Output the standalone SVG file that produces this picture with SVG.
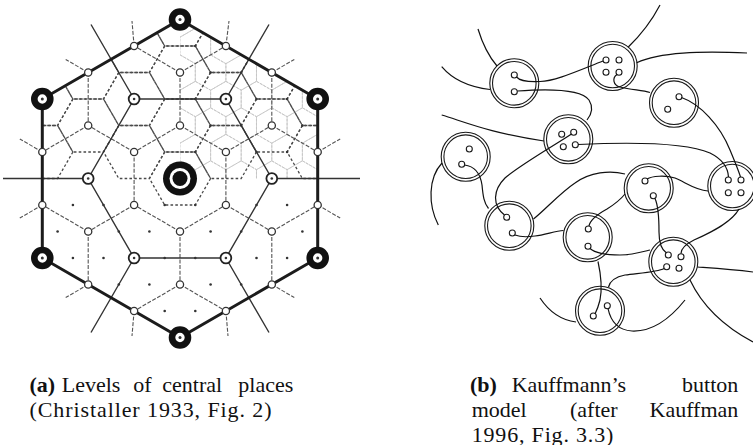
<svg xmlns="http://www.w3.org/2000/svg" xmlns:xlink="http://www.w3.org/1999/xlink" width="753" height="445" viewBox="0 0 753 445">
<style>
.ghex{fill:none;stroke:#1c1c1c;stroke-width:3}
.lg{fill:none;stroke:#333;stroke-width:1.4}
.lb{fill:none;stroke:#555;stroke-width:1.1;stroke-dasharray:4 1.6}
.l0{fill:none;stroke:#4a4a4a;stroke-width:1.3;stroke-dasharray:2.6 2.2}
.fine{fill:none;stroke:#c6c6c6;stroke-width:0.9;stroke-dasharray:3 1}
.k{fill:#fff;stroke:#333;stroke-width:1.3}
.b{fill:#fff;stroke:#222;stroke-width:1.8}
.gp{fill:#fff;stroke:#111;stroke-width:6.6}
.dot{fill:#333}
.ring{fill:#fff;stroke:#1a1a1a;stroke-width:1.1}
.hole{fill:none;stroke:#1a1a1a;stroke-width:1.1}
.th{fill:none;stroke:#111;stroke-width:1.2}
.cap{font-family:"Liberation Serif","Times New Roman",serif;font-size:22px;fill:#111}
</style>
<defs>
<path id="h0" d="M30.6,0 L15.3,26.5 L-15.3,26.5 L-30.6,0 L-15.3,-26.5 L15.3,-26.5Z"/>
<path id="h1" d="M0,-17.7 L15.3,-8.85 L15.3,8.85 L0,17.7 L-15.3,8.85 L-15.3,-8.85Z"/>
<clipPath id="cHex"><polygon points="180,19.5 317.7,99 317.7,258 180,337.5 42.3,258 42.3,99"/></clipPath>
<clipPath id="cUR"><polygon points="180,19.5 317.7,99 317.7,178.5 180,178.5"/></clipPath>
<g id="btn"><circle class="ring" r="24.5"/><circle class="ring" r="21.8"/></g>
</defs>
<rect width="753" height="445" fill="#fff"/>

<!-- (a) Christaller -->
<g id="connectors-a">
<g clip-path="url(#cUR)" class="fine">
<use href="#h1" x="180" y="19.5"/><use href="#h1" x="180" y="72.5"/><use href="#h1" x="180" y="125.5"/><use href="#h1" x="180" y="178.5"/>
<use href="#h1" x="195.3" y="46"/><use href="#h1" x="195.3" y="99"/><use href="#h1" x="195.3" y="152"/>
<use href="#h1" x="210.6" y="19.5"/><use href="#h1" x="210.6" y="72.5"/><use href="#h1" x="210.6" y="125.5"/><use href="#h1" x="210.6" y="178.5"/>
<use href="#h1" x="225.9" y="46"/><use href="#h1" x="225.9" y="99"/><use href="#h1" x="225.9" y="152"/>
<use href="#h1" x="241.2" y="19.5"/><use href="#h1" x="241.2" y="72.5"/><use href="#h1" x="241.2" y="125.5"/><use href="#h1" x="241.2" y="178.5"/>
<use href="#h1" x="256.5" y="46"/><use href="#h1" x="256.5" y="99"/><use href="#h1" x="256.5" y="152"/>
<use href="#h1" x="271.8" y="72.5"/><use href="#h1" x="271.8" y="125.5"/><use href="#h1" x="271.8" y="178.5"/>
<use href="#h1" x="287.1" y="99"/><use href="#h1" x="287.1" y="152"/>
<use href="#h1" x="302.4" y="72.5"/><use href="#h1" x="302.4" y="125.5"/><use href="#h1" x="302.4" y="178.5"/>
<use href="#h1" x="317.7" y="99"/><use href="#h1" x="317.7" y="152"/>
</g>
<g clip-path="url(#cHex)" class="l0">
<use href="#h0" x="180" y="19.5"/><use href="#h0" x="180" y="72.5"/><use href="#h0" x="180" y="125.5"/><use href="#h0" x="180" y="178.5"/>
<use href="#h0" x="134.1" y="46"/><use href="#h0" x="134.1" y="99"/><use href="#h0" x="134.1" y="152"/>
<use href="#h0" x="225.9" y="46"/><use href="#h0" x="225.9" y="99"/><use href="#h0" x="225.9" y="152"/>
<use href="#h0" x="88.2" y="72.5"/><use href="#h0" x="88.2" y="125.5"/>
<use href="#h0" x="271.8" y="72.5"/><use href="#h0" x="271.8" y="125.5"/>
<use href="#h0" x="42.3" y="99"/><use href="#h0" x="42.3" y="152"/>
<use href="#h0" x="317.7" y="99"/><use href="#h0" x="317.7" y="152"/>
</g>
<path class="lb" d="M180,72.5V125.5M180,231.5V284.5M225.9,152V205M134.1,152V205M271.8,72.5V125.5M88.2,72.5V125.5M271.8,231.5V284.5M88.2,231.5V284.5M317.7,152V205M42.3,152V205
M180,72.5L225.9,46M180,72.5L134.1,46M180,125.5L225.9,152M180,125.5L134.1,152M180,231.5L225.9,205M180,231.5L134.1,205M180,284.5L225.9,311M180,284.5L134.1,311
M225.9,46L271.8,72.5M134.1,46L88.2,72.5M225.9,152L271.8,125.5M134.1,152L88.2,125.5M225.9,205L271.8,231.5M134.1,205L88.2,231.5M225.9,311L271.8,284.5M134.1,311L88.2,284.5
M271.8,125.5L317.7,152M88.2,125.5L42.3,152M271.8,231.5L317.7,205M88.2,231.5L42.3,205
M134.1,46L132,21M225.9,46L229,21M88.2,72.5L65.7,59.5M271.8,72.5L294.3,59.5M42.3,152L19.8,139M317.7,152L340.2,139M42.3,205L19.8,218M317.7,205L340.2,218M88.2,284.5L65.7,297.5M271.8,284.5L294.3,297.5M134.1,311L132,336M225.9,311L228,336"/>
<path class="lg" d="M134.1,99H225.9L271.8,178.5L225.9,258H134.1L88.2,178.5Z M271.8,178.5H360M88.2,178.5H3M225.9,99L269,24.5M134.1,99L91,24.5M134.1,258L91,332.5M225.9,258L269,332.5"/>
<polygon class="ghex" points="180,19.5 317.7,99 317.7,258 180,337.5 42.3,258 42.3,99"/>
</g>
<g id="hamlets" class="dot">
<circle cx="195.3" cy="205" r="1.3"/><circle cx="195.3" cy="258" r="1.3"/><circle cx="195.3" cy="311" r="1.3"/>
<circle cx="164.7" cy="205" r="1.3"/><circle cx="164.7" cy="258" r="1.3"/><circle cx="164.7" cy="311" r="1.3"/>
<circle cx="210.6" cy="231.5" r="1.3"/><circle cx="210.6" cy="284.5" r="1.3"/><circle cx="149.4" cy="231.5" r="1.3"/><circle cx="149.4" cy="284.5" r="1.3"/>
<circle cx="241.2" cy="231.5" r="1.3"/><circle cx="241.2" cy="284.5" r="1.3"/><circle cx="118.8" cy="231.5" r="1.3"/><circle cx="118.8" cy="284.5" r="1.3"/>
<circle cx="256.5" cy="205" r="1.3"/><circle cx="256.5" cy="258" r="1.3"/><circle cx="103.5" cy="205" r="1.3"/><circle cx="103.5" cy="258" r="1.3"/>
<circle cx="287.1" cy="205" r="1.3"/><circle cx="287.1" cy="258" r="1.3"/><circle cx="72.9" cy="205" r="1.3"/><circle cx="72.9" cy="258" r="1.3"/>
<circle cx="302.4" cy="231.5" r="1.3"/><circle cx="57.6" cy="231.5" r="1.3"/>
<circle cx="195.3" cy="46" r="1.3"/><circle cx="195.3" cy="99" r="1.3"/><circle cx="195.3" cy="152" r="1.3"/>
<circle cx="210.6" cy="72.5" r="1.3"/><circle cx="210.6" cy="125.5" r="1.3"/><circle cx="241.2" cy="72.5" r="1.3"/><circle cx="241.2" cy="125.5" r="1.3"/>
<circle cx="256.5" cy="99" r="1.3"/><circle cx="256.5" cy="152" r="1.3"/><circle cx="287.1" cy="99" r="1.3"/><circle cx="287.1" cy="152" r="1.3"/><circle cx="302.4" cy="125.5" r="1.3"/>
</g>
<g id="k1"><circle class="k" cx="180" cy="72.5" r="3.6"/></g>
<g id="k2"><circle class="k" cx="180" cy="125.5" r="3.6"/></g>
<g id="k3"><circle class="k" cx="180" cy="231.5" r="3.6"/></g>
<g id="k4"><circle class="k" cx="180" cy="284.5" r="3.6"/></g>
<g id="k5"><circle class="k" cx="134.1" cy="46" r="3.6"/></g>
<g id="k6"><circle class="k" cx="134.1" cy="152" r="3.6"/></g>
<g id="k7"><circle class="k" cx="134.1" cy="205" r="3.6"/></g>
<g id="k8"><circle class="k" cx="134.1" cy="311" r="3.6"/></g>
<g id="k9"><circle class="k" cx="225.9" cy="46" r="3.6"/></g>
<g id="k10"><circle class="k" cx="225.9" cy="152" r="3.6"/></g>
<g id="k11"><circle class="k" cx="225.9" cy="205" r="3.6"/></g>
<g id="k12"><circle class="k" cx="225.9" cy="311" r="3.6"/></g>
<g id="k13"><circle class="k" cx="88.2" cy="72.5" r="3.6"/></g>
<g id="k14"><circle class="k" cx="88.2" cy="125.5" r="3.6"/></g>
<g id="k15"><circle class="k" cx="88.2" cy="231.5" r="3.6"/></g>
<g id="k16"><circle class="k" cx="88.2" cy="284.5" r="3.6"/></g>
<g id="k17"><circle class="k" cx="271.8" cy="72.5" r="3.6"/></g>
<g id="k18"><circle class="k" cx="271.8" cy="125.5" r="3.6"/></g>
<g id="k19"><circle class="k" cx="271.8" cy="231.5" r="3.6"/></g>
<g id="k20"><circle class="k" cx="271.8" cy="284.5" r="3.6"/></g>
<g id="k21"><circle class="k" cx="42.3" cy="152" r="3.6"/></g>
<g id="k22"><circle class="k" cx="42.3" cy="205" r="3.6"/></g>
<g id="k23"><circle class="k" cx="317.7" cy="152" r="3.6"/></g>
<g id="k24"><circle class="k" cx="317.7" cy="205" r="3.6"/></g>
<g id="b1"><circle class="b" cx="134.1" cy="99" r="5.4"/><circle class="dot" cx="134.1" cy="99" r="1.3"/></g>
<g id="b2"><circle class="b" cx="225.9" cy="99" r="5.4"/><circle class="dot" cx="225.9" cy="99" r="1.3"/></g>
<g id="b3"><circle class="b" cx="271.8" cy="178.5" r="5.4"/><circle class="dot" cx="271.8" cy="178.5" r="1.3"/></g>
<g id="b4"><circle class="b" cx="225.9" cy="258" r="5.4"/><circle class="dot" cx="225.9" cy="258" r="1.3"/></g>
<g id="b5"><circle class="b" cx="134.1" cy="258" r="5.4"/><circle class="dot" cx="134.1" cy="258" r="1.3"/></g>
<g id="b6"><circle class="b" cx="88.2" cy="178.5" r="5.4"/><circle class="dot" cx="88.2" cy="178.5" r="1.3"/></g>
<g id="g1"><circle class="gp" cx="180" cy="19.5" r="8"/><circle class="dot" cx="180" cy="19.5" r="1.5"/></g>
<g id="g2"><circle class="gp" cx="317.7" cy="99" r="8"/><circle class="dot" cx="317.7" cy="99" r="1.5"/></g>
<g id="g3"><circle class="gp" cx="317.7" cy="258" r="8"/><circle class="dot" cx="317.7" cy="258" r="1.5"/></g>
<g id="g4"><circle class="gp" cx="180" cy="337.5" r="8"/><circle class="dot" cx="180" cy="337.5" r="1.5"/></g>
<g id="g5"><circle class="gp" cx="42.3" cy="258" r="8"/><circle class="dot" cx="42.3" cy="258" r="1.5"/></g>
<g id="g6"><circle class="gp" cx="42.3" cy="99" r="8"/><circle class="dot" cx="42.3" cy="99" r="1.5"/></g>
<g id="center"><circle cx="180" cy="178.5" r="17" fill="#111"/><circle cx="180" cy="178.5" r="10.5" fill="#fff"/><circle cx="180" cy="178.5" r="7.5" fill="#111"/></g>

<!-- (b) Kauffman buttons -->
<g id="button1"><use href="#btn" x="514.3" y="83.3"/><circle class="hole" cx="514.3" cy="75" r="3"/><circle class="hole" cx="514.3" cy="91.7" r="3"/></g>
<g id="button2"><use href="#btn" x="612.7" y="66"/><circle class="hole" cx="606" cy="60" r="3"/><circle class="hole" cx="619" cy="60" r="3"/><circle class="hole" cx="606" cy="72.3" r="3"/><circle class="hole" cx="619" cy="72.3" r="3"/></g>
<g id="button3"><use href="#btn" x="674" y="102.7"/><circle class="hole" cx="679" cy="96.7" r="3"/><circle class="hole" cx="667.7" cy="109.3" r="3"/></g>
<g id="button4"><use href="#btn" x="568.3" y="139.3"/><circle class="hole" cx="561.7" cy="134.3" r="3"/><circle class="hole" cx="573.7" cy="132.3" r="3"/><circle class="hole" cx="563.3" cy="146.7" r="3"/><circle class="hole" cx="575.3" cy="144.7" r="3"/></g>
<g id="button5"><use href="#btn" x="465.7" y="156.7"/><circle class="hole" cx="469.3" cy="149" r="3"/><circle class="hole" cx="461.7" cy="164.3" r="3"/></g>
<g id="button6"><use href="#btn" x="648.7" y="188.3"/><circle class="hole" cx="645" cy="181" r="3"/><circle class="hole" cx="653.3" cy="195.7" r="3"/></g>
<g id="button7"><use href="#btn" x="732.3" y="186"/><circle class="hole" cx="728.3" cy="180" r="3"/><circle class="hole" cx="741" cy="180" r="3"/><circle class="hole" cx="728.3" cy="192.7" r="3"/><circle class="hole" cx="741" cy="192.7" r="3"/></g>
<g id="button8"><use href="#btn" x="509.3" y="225.7"/><circle class="hole" cx="506.7" cy="217.3" r="3"/><circle class="hole" cx="512.3" cy="233" r="3"/></g>
<g id="button9"><use href="#btn" x="587.7" y="237.3"/><circle class="hole" cx="588.3" cy="229" r="3"/><circle class="hole" cx="588" cy="246.3" r="3"/></g>
<g id="button10"><use href="#btn" x="673.3" y="261.7"/><circle class="hole" cx="668.3" cy="255" r="3"/><circle class="hole" cx="681" cy="256.7" r="3"/><circle class="hole" cx="666.7" cy="266.7" r="3"/><circle class="hole" cx="679" cy="268.3" r="3"/></g>
<g id="button11"><use href="#btn" x="600" y="310.7"/><circle class="hole" cx="593.3" cy="316" r="3"/><circle class="hole" cx="607.3" cy="305.7" r="3"/></g>

<g id="threads" class="th">
<path d="M478,29 Q485,52 497,66"/>
<path d="M441.7,66.7 Q458,86 490,89.5"/>
<path d="M516.5,77 C520,81 530,82 540,81.5 C555,81 575,72 603,61"/>
<path d="M517.5,91 C545,89 580,88 589,100 C594,108 591,115 587,120"/>
<path d="M628.3,47 Q648,28 660,5"/>
<path d="M636.7,62.7 C660,52 700,51 747,53"/>
<path d="M617,74.5 C612,78 613,85 620,87 C632,90 642,90 650,92.5"/>
<path d="M681.5,97.5 C700,104 720,125 730,150 C735,162 739,172 740.5,177"/>
<path d="M571.5,134 C555,145 520,165 505,178 C493,190 492,205 504.5,215"/>
<path d="M441.7,115 C465,122 490,133 544,141"/>
<path d="M578,144.5 C610,143 680,140 710,153 C724,160 728,168 728.5,177"/>
<path d="M438.3,225 C428,205 428,178 442,163"/>
<path d="M464.5,165 C474,166 480,172 482,185 C483,196 484,203 488.5,208.5"/>
<path d="M515,235 C520,237 528,237 535,236 C545,235 555,231 563.5,230.5"/>
<path d="M533.5,219 C545,210 560,193 575,183 C590,172 610,170 625,174"/>
<path d="M647,179 C652,176 665,175 675,178 C685,182 695,190 708,191"/>
<path d="M655,198.5 C658,205 659,220 659,232 C659,243 662,250 666.5,253"/>
<path d="M589,226 C590,220 598,214 607,209 C615,204 621,199 625,194"/>
<path d="M590,248.5 C594,252 605,255 620,255 C632,255 642,252 650,250"/>
<path d="M739,209 C732,222 712,232 694,240 C686,244 681,249 681,253.5"/>
<path d="M697.5,267 C712,268 730,269 753,272"/>
<path d="M690,280 Q708,318 753,342"/>
<path d="M664,268.5 C658,272 640,273 625,275 C615,277 610,281 608.5,287"/>
<path d="M598,261.5 C601,275 602,290 600,300 C598,308 596,312 595,314"/>
<path d="M608,308.5 C610,318 615,330 632,331 C655,332 673,315 685,300"/>
<path d="M540,298 C548,310 560,320 576,322"/>
</g>

<g id="captions" class="cap">
<text y="391.5"><tspan x="29.5" font-weight="bold">(a)</tspan><tspan x="61.7">Levels</tspan><tspan x="133.3">of</tspan><tspan x="162.3">central</tspan><tspan x="238.3">places</tspan></text>
<text x="29.5" y="417" textLength="242">(Christaller 1933, Fig. 2)</text>
<text y="391.5"><tspan x="470" font-weight="bold">(b)</tspan><tspan x="511.7">Kauffmann’s</tspan></text>
<text x="738.3" y="391.5" text-anchor="end">button</text>
<text y="417"><tspan x="471.7">model</tspan><tspan x="570">(after</tspan></text>
<text x="738.3" y="417" text-anchor="end">Kauffman</text>
<text x="471.7" y="441.5" textLength="141.6">1996, Fig. 3.3)</text>
</g>
</svg>
